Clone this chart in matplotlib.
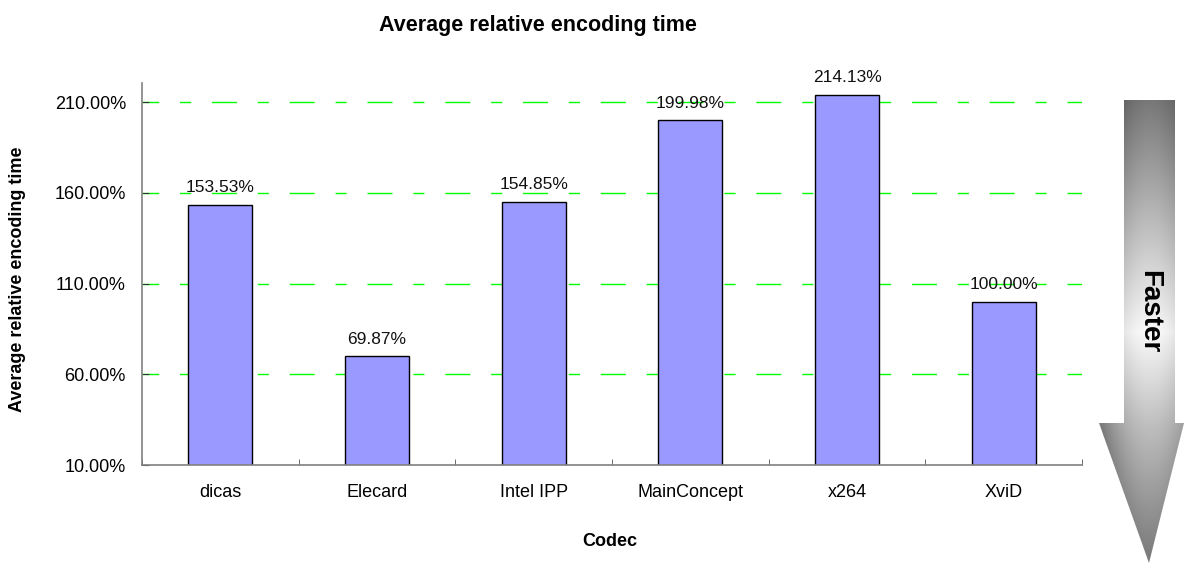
import matplotlib
matplotlib.use("Agg")
import matplotlib.pyplot as plt
from matplotlib.patches import Polygon
import numpy as np

codecs = ["dicas", "Elecard", "Intel IPP", "MainConcept", "x264", "XviD"]
tiempos = [153.53, 69.87, 154.85, 199.98, 214.13, 100.00]
ticks_y = [10, 60, 110, 160, 210]

plt.rcParams["font.family"] = ["Liberation Sans", "DejaVu Sans"]
plt.rcParams["lines.scale_dashes"] = False

fig = plt.figure(figsize=(11.84, 5.75), dpi=100)
ax = fig.add_axes([0.1199, 0.1913, 0.794, 0.6643])

x = np.arange(len(codecs))
ax.bar(x, tiempos, width=0.41, bottom=0, color="#9999FF",
       edgecolor="black", linewidth=1.0, zorder=2)

for xi, v in zip(x, tiempos):
    ax.annotate(f"{v:.2f}%", (xi, v), xytext=(0, 7), textcoords="offset points",
                ha="center", va="bottom", fontsize=12.5, color="#111111", zorder=4)

ax.set_xlim(-0.5, len(codecs) - 0.5)
ax.set_ylim(10, 220.5)
ax.set_yticks(ticks_y)
ax.set_yticklabels([f"{t:.2f}%" for t in ticks_y], fontsize=13)
for t in ticks_y[1:]:
    ax.axhline(t, color="#00FF00", lw=1.0, linestyle=(6, (18, 15, 8, 15)), zorder=1)

ax.set_xticks(x)
ax.set_xticklabels(codecs, fontsize=13)
ax.set_xticks(np.arange(-0.5, len(codecs)), minor=True)
ax.tick_params(axis="x", which="major", length=0, pad=14)
ax.tick_params(axis="x", which="minor", direction="in", length=4, color="#555555")
ax.tick_params(axis="y", direction="in", length=5, pad=11.5, color="#333333")

for lado in ["top", "right"]:
    ax.spines[lado].set_visible(False)
for lado in ["left", "bottom"]:
    ax.spines[lado].set_color("#808080")
    ax.spines[lado].set_linewidth(1.2)

fig.text(0.4544, 0.955, "Average relative encoding time", ha="center", va="center",
         fontsize=15.5, fontweight="bold")
fig.text(0.0145, 0.515, "Average relative encoding time", ha="center", va="center",
         rotation=90, fontsize=13, fontweight="bold")
fig.text(0.5152, 0.059, "Codec", ha="center", va="center", fontsize=13, fontweight="bold")

# flecha "Faster" con degradado
ax2 = fig.add_axes([0, 0, 1, 1])
ax2.set_xlim(0, 1184)
ax2.set_ylim(575, 0)
ax2.axis("off")
pts = [(1124, 100), (1175, 100), (1175, 423), (1184, 423), (1149, 563),
       (1099, 423), (1124, 423)]
yy, xx = np.mgrid[100:563, 1099:1185]
t = (yy - 100) / 463.0
vert = np.interp(t, [0, 0.15, 0.5, 0.7, 1.0], [0.47, 0.62, 0.98, 0.75, 0.47])
d = np.abs(xx - 1149.5) / 36.0
g = np.clip(vert - 0.15 * np.clip(d, 0, 1.3) ** 2, 0, 1)
img = np.dstack([g, g, g])
im = ax2.imshow(img, extent=(1099, 1185, 563, 100), origin="upper",
                interpolation="bilinear", aspect="auto")
poly = Polygon(pts, closed=True, facecolor="none", edgecolor="none")
ax2.add_patch(poly)
im.set_clip_path(poly)
ax2.text(1149, 312, "Faster", rotation=-90, ha="center", va="center",
         fontsize=20, fontweight="bold")

fig.savefig("out.png", dpi=100)
